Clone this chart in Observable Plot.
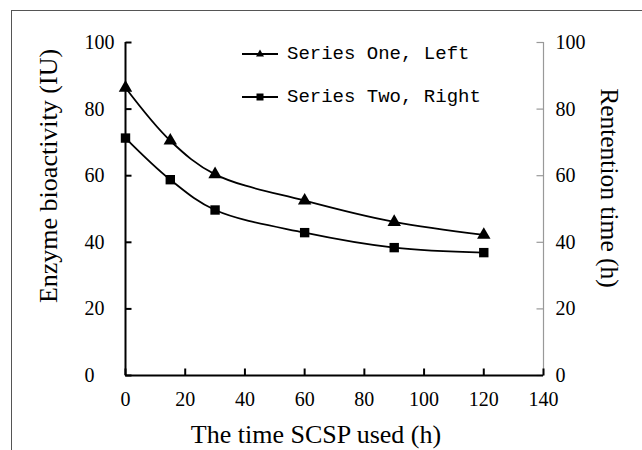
<!DOCTYPE html>
<html>
<head>
<meta charset="utf-8">
<script src="https://cdn.jsdelivr.net/npm/d3@7"></script>
<script src="https://cdn.jsdelivr.net/npm/@observablehq/plot@0.6"></script>
<style>
  html, body { margin: 0; padding: 0; background: #fff; width: 642px; height: 450px; overflow: hidden; }
  #wrap { position: relative; width: 642px; height: 450px; }
  #frame { position: absolute; left: 11px; top: 10px; width: 700px; height: 500px; border: 1.5px solid #555; box-sizing: border-box; }
  #chart { position: absolute; left: 0; top: 0; }
  .leg { position: absolute; left: 240px; font-family: "Liberation Mono", "DejaVu Sans Mono", monospace; font-size: 19px; color: #000; display: flex; align-items: center; white-space: nowrap; }
  .leg svg { margin-right: 7px; }
</style>
</head>
<body>
<div id="wrap">
  <div id="frame"></div>
  <div id="chart"></div>
  <div class="leg" id="leg1" style="top:42.5px"></div>
  <div class="leg" id="leg2" style="top:85.5px"></div>
</div>
<script>
const hours = [0, 15, 30, 60, 90, 120];
const seriesOne = [86.4, 70.5, 60.4, 52.5, 46.1, 42.2];
const seriesTwo = [71.3, 58.8, 49.7, 42.9, 38.4, 36.9];
const seriesNames = ["Series One, Left", "Series Two, Right"];
const xTicks = [0, 20, 40, 60, 80, 100, 120, 140];
const yTicks = [0, 20, 40, 60, 80, 100];
const xTitle = "The time SCSP used (h)";
const yLeftTitle = "Enzyme bioactivity (IU)";
const yRightTitle = "Rentention time (h)";

const one = hours.map((h, i) => ({x: h, y: seriesOne[i]}));
const two = hours.map((h, i) => ({x: h, y: seriesTwo[i]}));

// tick-mark symbols (drawn in pixels, placed by the scales)
const tickRight = {draw(ctx) { ctx.moveTo(0, 0); ctx.lineTo(6, 0); }};
const tickLeft = {draw(ctx) { ctx.moveTo(0, 0); ctx.lineTo(-7, 0); }};
const tickUp = {draw(ctx) { ctx.moveTo(0, 0); ctx.lineTo(0, -7); }};

const chart = Plot.plot({
  width: 642,
  height: 450,
  marginLeft: 125,
  marginRight: 99,
  marginTop: 42,
  marginBottom: 75,
  style: {fontFamily: "'Liberation Serif', 'Times New Roman', serif", fontSize: "20px", color: "#000", background: "transparent"},
  x: {domain: [0, 140], axis: null},
  y: {domain: [0, 100], axis: null},
  marks: [
    // right axis (gray)
    Plot.ruleX([140], {stroke: "#999", strokeWidth: 1.2}),
    Plot.dot(yTicks, {x: 140, y: d => d, symbol: tickLeft, stroke: "#999", strokeWidth: 1.2, fill: "none"}),
    Plot.text(yTicks, {x: 140, y: d => d, text: d => String(d), dx: 12, textAnchor: "start", fill: "#000"}),
    // left axis
    Plot.ruleX([0], {stroke: "#000", strokeWidth: 2}),
    Plot.dot(yTicks, {x: 0, y: d => d, symbol: tickRight, stroke: "#000", strokeWidth: 2, fill: "none"}),
    Plot.text(yTicks, {x: 0, y: d => d, text: d => String(d), dx: -41, textAnchor: "start", fill: "#000"}),
    // bottom axis
    Plot.ruleY([0], {stroke: "#000", strokeWidth: 2}),
    Plot.dot(xTicks, {x: d => d, y: 0, symbol: tickUp, stroke: "#000", strokeWidth: 2, fill: "none"}),
    Plot.text(xTicks, {x: d => d, y: 0, text: d => String(d), dy: 24, fill: "#000"}),
    // titles
    Plot.text([yLeftTitle], {frameAnchor: "left", textAnchor: "middle", dx: -77, dy: -33, rotate: -90, fontSize: 26, fill: "#000"}),
    Plot.text([yRightTitle], {frameAnchor: "right", textAnchor: "middle", dx: 66, dy: -21, rotate: 90, fontSize: 25.5, fill: "#000"}),
    Plot.text([xTitle], {frameAnchor: "bottom", textAnchor: "middle", dx: -18.5, dy: 67, fontSize: 26, fill: "#000"}),
    // series
    Plot.line(one, {x: "x", y: "y", curve: "catmull-rom", stroke: "#000", strokeWidth: 1.8}),
    Plot.line(two, {x: "x", y: "y", curve: "catmull-rom", stroke: "#000", strokeWidth: 1.8}),
    Plot.dot(one, {x: "x", y: "y", symbol: "triangle", r: 5, fill: "#000", stroke: "none"}),
    Plot.dot(two, {x: "x", y: "y", symbol: "square", r: 5.3, fill: "#000", stroke: "none"})
  ]
});
document.getElementById("chart").appendChild(chart);

function legendItem(el, name, shape) {
  const ns = "http://www.w3.org/2000/svg";
  const s = document.createElementNS(ns, "svg");
  s.setAttribute("width", "40"); s.setAttribute("height", "14");
  const l = document.createElementNS(ns, "line");
  l.setAttribute("x1", "2"); l.setAttribute("x2", "38"); l.setAttribute("y1", "7"); l.setAttribute("y2", "7");
  l.setAttribute("stroke", "#000"); l.setAttribute("stroke-width", "1.8");
  s.appendChild(l);
  const p = document.createElementNS(ns, "path");
  p.setAttribute("d", shape === "triangle" ? "M20,2.5L24,9.5L16,9.5Z" : "M16.5,3.5H23.5V10.5H16.5Z");
  p.setAttribute("fill", "#000");
  s.appendChild(p);
  el.appendChild(s);
  const t = document.createElement("span");
  t.textContent = name;
  el.appendChild(t);
}
legendItem(document.getElementById("leg1"), seriesNames[0], "triangle");
legendItem(document.getElementById("leg2"), seriesNames[1], "square");
</script>
</body>
</html>
